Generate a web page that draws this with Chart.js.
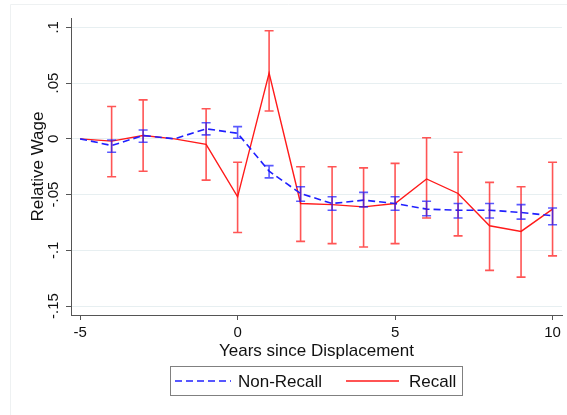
<!DOCTYPE html>
<html>
<head>
<meta charset="utf-8">
<script src="https://cdn.jsdelivr.net/npm/chart.js@4.4.0/dist/chart.umd.min.js"></script>
<style>
  html, body { margin: 0; padding: 0; background: #ffffff; }
  #wrap { width: 567px; height: 415px; position: relative; }
</style>
</head>
<body>
<div id="wrap"><canvas id="c" width="567" height="415"></canvas></div>
<script>
// Event time relative to displacement
const years = [-5, -4, -3, -2, -1, 0, 1, 2, 3, 4, 5, 6, 7, 8, 9, 10];

// Non-recall workers: point estimate and 95% CI bounds
const nonRecall   = [0, -0.006, 0.003, 0, 0.009, 0.005, -0.029, -0.049, -0.058, -0.055, -0.058, -0.063, -0.064, -0.064, -0.066, -0.069];
const nonRecallHi = [null, -0.001, 0.008, null, 0.0144, 0.011, -0.024, -0.043, -0.052, -0.048, -0.052, -0.056, -0.058, -0.058, -0.059, -0.062];
const nonRecallLo = [null, -0.012, -0.003, null, 0.0036, 0.0006, -0.035, -0.056, -0.064, -0.061, -0.064, -0.069, -0.071, -0.071, -0.072, -0.077];

// Recall workers: point estimate and 95% CI bounds
const recall   = [0, -0.002, 0.003, 0, -0.005, -0.052, 0.059, -0.058, -0.059, -0.061, -0.058, -0.036, -0.049, -0.078, -0.083, -0.063];
const recallHi = [null, 0.029, 0.035, null, 0.027, -0.021, 0.097, -0.025, -0.025, -0.026, -0.022, 0.001, -0.012, -0.039, -0.043, -0.021];
const recallLo = [null, -0.034, -0.029, null, -0.037, -0.084, 0.025, -0.092, -0.094, -0.097, -0.094, -0.071, -0.087, -0.118, -0.124, -0.105];

// Axis ticks
const xTickValues = [-5, 0, 5, 10];
const yTickValues = [-0.15, -0.1, -0.05, 0, 0.05, 0.1];
const yTickLabels = ['-.15', '-.1', '-.05', '0', '.05', '.1'];

const FONT = '"Liberation Sans", Arial, sans-serif';
const TEXT = '#111111';
const AXIS = '#555555';

const toPoints = (vals) => years.map((x, i) => ({ x: x, y: vals[i] }));

// Confidence-interval whiskers with caps
const ciPlugin = {
  id: 'ciBars',
  afterDatasetsDraw(chart) {
    const ctx = chart.ctx;
    const xs = chart.scales.x, ys = chart.scales.y;
    const sets = [
      { hi: recallHi, lo: recallLo, color: 'rgba(255,20,20,0.72)', width: 1.6, cap: 4.5 },
      { hi: nonRecallHi, lo: nonRecallLo, color: 'rgba(20,20,255,0.7)', width: 1.6, cap: 4.5 }
    ];
    ctx.save();
    for (const s of sets) {
      ctx.strokeStyle = s.color;
      ctx.lineWidth = s.width;
      years.forEach((yr, i) => {
        if (s.hi[i] === null || s.lo[i] === null) return;
        const px = xs.getPixelForValue(yr);
        const pHi = ys.getPixelForValue(s.hi[i]);
        const pLo = ys.getPixelForValue(s.lo[i]);
        ctx.beginPath();
        ctx.moveTo(px, pHi); ctx.lineTo(px, pLo);
        ctx.moveTo(px - s.cap, pHi); ctx.lineTo(px + s.cap, pHi);
        ctx.moveTo(px - s.cap, pLo); ctx.lineTo(px + s.cap, pLo);
        ctx.stroke();
      });
    }
    ctx.restore();
  }
};

// Rotated y tick labels, axis titles, legend box and the faint outer frame
const decorPlugin = {
  id: 'decor',
  afterDraw(chart) {
    const ctx = chart.ctx;
    const ys = chart.scales.y;
    const area = chart.chartArea;
    ctx.save();

    // outer frame
    ctx.strokeStyle = '#eef1f2';
    ctx.lineWidth = 1;
    ctx.beginPath();
    ctx.moveTo(10.5, 415); ctx.lineTo(10.5, 4.5); ctx.lineTo(567, 4.5);
    ctx.stroke();

    // y tick labels (rotated)
    ctx.fillStyle = TEXT;
    ctx.font = '15px ' + FONT;
    ctx.textAlign = 'center';
    ctx.textBaseline = 'middle';
    yTickValues.forEach((v, i) => {
      const py = ys.getPixelForValue(v);
      ctx.save();
      ctx.translate(54, py);
      ctx.rotate(-Math.PI / 2);
      ctx.fillText(yTickLabels[i], 0, 0);
      ctx.restore();
    });

    // y axis title
    ctx.font = '17px ' + FONT;
    ctx.save();
    ctx.translate(38, (area.top + area.bottom) / 2);
    ctx.rotate(-Math.PI / 2);
    ctx.fillText('Relative Wage', 0, 0);
    ctx.restore();

    // x axis title
    ctx.fillText('Years since Displacement', (area.left + area.right) / 2, 351);

    // legend
    const bx = 170.5, by = 366.5, bw = 292, bh = 29;
    ctx.strokeStyle = '#808080';
    ctx.lineWidth = 1;
    ctx.strokeRect(bx, by, bw, bh);
    const ly = by + bh / 2;
    const dsBlue = chart.data.datasets[0];
    const dsRed = chart.data.datasets[1];
    ctx.lineWidth = 1.6;
    ctx.strokeStyle = dsBlue.borderColor;
    ctx.setLineDash(dsBlue.borderDash);
    ctx.beginPath(); ctx.moveTo(175, ly); ctx.lineTo(231, ly); ctx.stroke();
    ctx.setLineDash([]);
    ctx.strokeStyle = dsRed.borderColor;
    ctx.lineWidth = 1.4;
    ctx.beginPath(); ctx.moveTo(346, ly); ctx.lineTo(399, ly); ctx.stroke();
    ctx.textAlign = 'left';
    ctx.fillStyle = TEXT;
    ctx.fillText(dsBlue.label, 238, ly + 1);
    ctx.fillText(dsRed.label, 409, ly + 1);

    ctx.restore();
  }
};

new Chart(document.getElementById('c'), {
  type: 'line',
  data: {
    datasets: [
      {
        label: 'Non-Recall',
        data: toPoints(nonRecall),
        borderColor: '#2020ff',
        borderWidth: 1.6,
        borderDash: [7, 4],
        pointRadius: 0,
        fill: false,
        tension: 0
      },
      {
        label: 'Recall',
        data: toPoints(recall),
        borderColor: '#ff1a1a',
        borderWidth: 1.4,
        pointRadius: 0,
        fill: false,
        tension: 0
      }
    ]
  },
  options: {
    responsive: false,
    animation: false,
    devicePixelRatio: 1,
    layout: { padding: { left: 0, right: 5, top: 18, bottom: 0 } },
    plugins: {
      legend: { display: false },
      tooltip: { enabled: false }
    },
    scales: {
      x: {
        type: 'linear',
        min: -5.29,
        max: 10.3,
        afterBuildTicks: (s) => { s.ticks = xTickValues.map(v => ({ value: v })); },
        afterFit: (s) => { s.height = 100; },
        ticks: {
          color: TEXT,
          font: { size: 15, family: FONT },
          padding: 4,
          maxRotation: 0,
          callback: (v) => String(v)
        },
        grid: {
          drawOnChartArea: false,
          drawTicks: true,
          tickLength: 5,
          tickColor: AXIS
        },
        border: { color: AXIS, width: 1 }
      },
      y: {
        type: 'linear',
        min: -0.158,
        max: 0.1084,
        afterBuildTicks: (s) => { s.ticks = yTickValues.map(v => ({ value: v })); },
        afterFit: (s) => { s.width = 71; },
        ticks: { display: false },
        grid: {
          color: '#e7eff1',
          lineWidth: 1,
          drawTicks: true,
          tickLength: 5,
          tickColor: AXIS
        },
        border: { color: AXIS, width: 1 }
      }
    }
  },
  plugins: [ciPlugin, decorPlugin]
});
</script>
</body>
</html>
